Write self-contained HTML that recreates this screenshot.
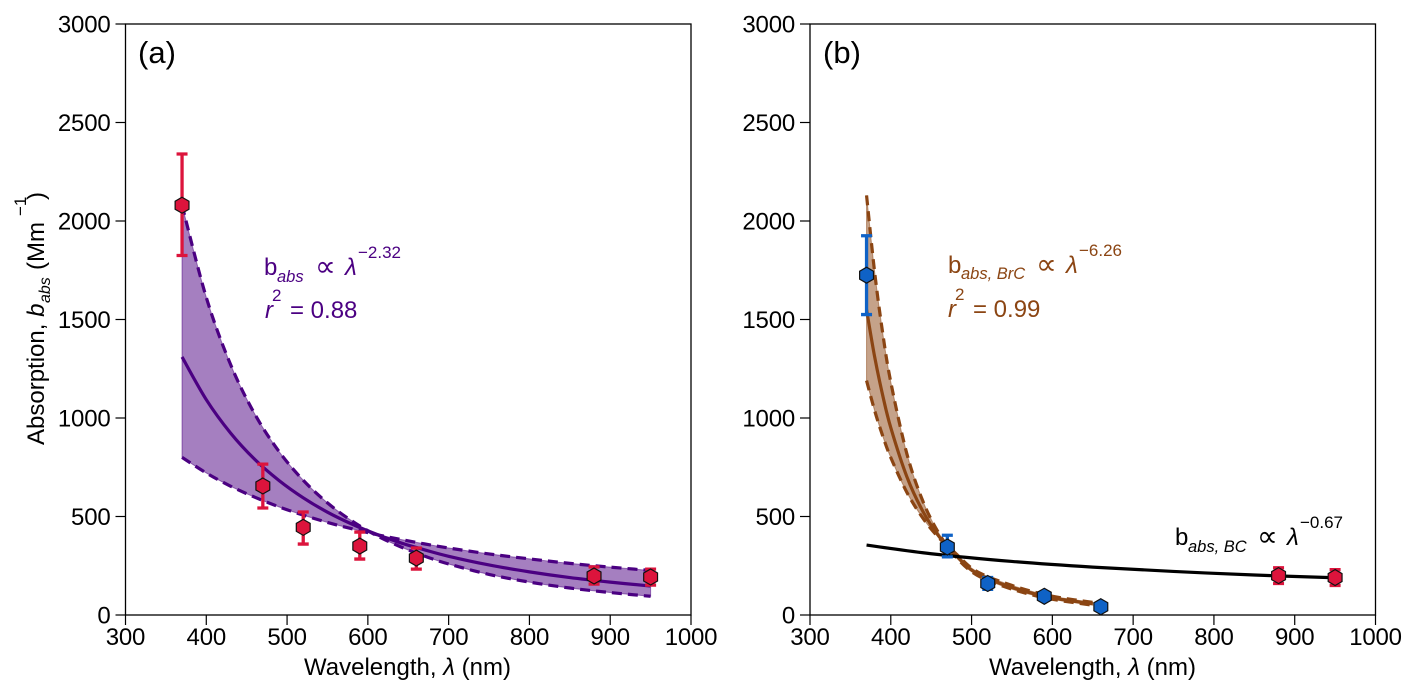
<!DOCTYPE html>
<html lang="en">
<head>
<meta charset="utf-8">
<title>Absorption vs wavelength</title>
<style>
html,body{margin:0;padding:0;background:#fff;}
svg{display:block;font-family:"Liberation Sans",Arial,sans-serif;}
text{fill:#000;}
.tick{font-size:24px;letter-spacing:-0.2px;}
.title{font-size:24px;}
.ann{font-size:24px;}
.sub{font-size:16.5px;font-style:italic;}
.sup{font-size:17px;}
.prop{font-family:"DejaVu Sans",sans-serif;font-size:29px;}
.it{font-style:italic;}
.purple{fill:#4b0082;}
.brown{fill:#8b4513;}
</style>
</head>
<body>
<svg id="chart" xmlns="http://www.w3.org/2000/svg" width="1415" height="694" viewBox="0 0 1415 694">
  <rect x="0" y="0" width="1415" height="694" fill="#fff"/>
  <g id="panel-a"></g>
  <g id="panel-b"></g>

  <text x="138" y="63" font-size="31">(a)</text>
  <text x="823" y="63" font-size="31">(b)</text>

  <text class="title" x="407.5" y="675" text-anchor="middle">Wavelength, <tspan class="it">λ</tspan> (nm)</text>
  <text class="title" x="1092.5" y="675" text-anchor="middle">Wavelength, <tspan class="it">λ</tspan> (nm)</text>

  <g transform="translate(44,445) rotate(-90)">
    <text class="title" x="0" y="0">Absorption, <tspan class="it">b</tspan></text>
    <text class="sub" x="142" y="6" style="font-size:16px">abs</text>
    <text class="title" x="175" y="0">(Mm</text>
    <text class="sup" x="229" y="-18" style="font-size:17px">−1</text>
    <text class="title" x="245" y="0">)</text>
  </g>

  <g>
    <text class="ann purple" x="264" y="275">b</text>
    <text class="sub purple" x="277" y="282">abs</text>
    <text class="prop purple" x="315" y="276">∝</text>
    <text class="ann it purple" x="345" y="275">λ</text>
    <text class="sup purple" x="358" y="258">−2.32</text>
    <text class="ann it purple" x="265" y="318">r</text>
    <text class="sup purple" x="272" y="301">2</text>
    <text class="ann purple" x="290" y="318">= 0.88</text>
  </g>

  <g>
    <text class="ann brown" x="948" y="273">b</text>
    <text class="sub brown" x="961" y="279">abs, BrC</text>
    <text class="prop brown" x="1036" y="274">∝</text>
    <text class="ann it brown" x="1066" y="273">λ</text>
    <text class="sup brown" x="1079" y="256">−6.26</text>
    <text class="ann it brown" x="948" y="317">r</text>
    <text class="sup brown" x="955" y="300">2</text>
    <text class="ann brown" x="973" y="317">= 0.99</text>
  </g>

  <g>
    <text class="ann" x="1175" y="545">b</text>
    <text class="sub" x="1188" y="552">abs, BC</text>
    <text class="prop" x="1257" y="546">∝</text>
    <text class="ann it" x="1287" y="545">λ</text>
    <text class="sup" x="1300" y="528">−0.67</text>
  </g>
</svg>
<script>
const xTickValues = [300, 400, 500, 600, 700, 800, 900, 1000];
const yTickValues = [0, 500, 1000, 1500, 2000, 2500, 3000];

const aFitWavelengths = [370, 400, 430, 460, 490, 520, 550, 580, 610, 640, 670, 700, 750, 800, 850, 900, 950];
const aSteepBound = [2080, 1612, 1272, 1020, 830, 684, 569, 478, 405, 347, 299, 259, 206, 167, 137, 114, 95];
const aShallowBound = [800, 721, 654, 598, 549, 507, 470, 438, 409, 384, 361, 340, 310, 285, 262, 243, 226];
const aFitCentral = [1310, 1093, 924, 790, 683, 595, 522, 462, 411, 367, 331, 298, 254, 219, 190, 167, 147];

const aPointWavelengths = [370, 470, 520, 590, 660, 880, 950];
const aPointValues = [2080, 655, 445, 350, 289, 198, 193];
const aPointLow = [1825, 543, 360, 284, 233, 157, 152];
const aPointHigh = [2340, 766, 523, 421, 340, 244, 233];

const bBrcWavelengths = [370, 380, 390, 400, 420, 440, 460, 480, 500, 520, 550, 580, 610, 650];
const bBrcSteepBound = [2130, 1741, 1431, 1182, 817, 575, 411, 298, 220, 176, 131, 97, 73, 50];
const bBrcShallowBound = [1190, 1038, 909, 799, 622, 490, 390, 314, 238, 195, 150, 114, 88, 64];
const bBrcCentral = [1550, 1311, 1115, 951, 701, 524, 397, 305, 228, 185, 140, 105, 80, 57];

const bBcWavelengths = [370, 450, 550, 650, 750, 850, 950];
const bBcFit = [355, 311, 272, 243, 221, 203, 189];

const bBluePointWavelengths = [370, 470, 520, 590, 660];
const bBluePointValues = [1725, 345, 160, 95, 42];
const bBluePointLow = [1525, 295, 130, 75, 30];
const bBluePointHigh = [1925, 405, 190, 115, 55];

const bRedPointWavelengths = [880, 950];
const bRedPointValues = [200, 190];
const bRedPointLow = [160, 150];
const bRedPointHigh = [240, 230];

const NS = 'http://www.w3.org/2000/svg';
const PLOT_TOP = 24, PLOT_BOTTOM = 615, PANEL_WIDTH = 565.5;
const COLOR_PURPLE = '#4b0082', COLOR_BROWN = '#8b4513', COLOR_RED = '#dc143c', COLOR_BLUE = '#0f62c6';

function yScale(v) {
  return PLOT_BOTTOM - (v - 0) / 3000 * (PLOT_BOTTOM - PLOT_TOP);
}
function makeXScale(left) {
  return function (v) { return left + (v - 300) / 700 * PANEL_WIDTH; };
}
function svgEl(tag, parent) {
  const el = document.createElementNS(NS, tag);
  parent.appendChild(el);
  return el;
}
function splineSegments(pts) {
  let d = '';
  for (let i = 0; i < pts.length - 1; i++) {
    const p0 = pts[Math.max(i - 1, 0)], p1 = pts[i], p2 = pts[i + 1], p3 = pts[Math.min(i + 2, pts.length - 1)];
    const c1x = p1[0] + (p2[0] - p0[0]) / 6, c1y = p1[1] + (p2[1] - p0[1]) / 6;
    const c2x = p2[0] - (p3[0] - p1[0]) / 6, c2y = p2[1] - (p3[1] - p1[1]) / 6;
    d += 'C' + c1x.toFixed(2) + ' ' + c1y.toFixed(2) + ' ' + c2x.toFixed(2) + ' ' + c2y.toFixed(2) + ' ' + p2[0].toFixed(2) + ' ' + p2[1].toFixed(2);
  }
  return d;
}
function toPoints(xs, ys, xScale) {
  return xs.map(function (x, i) { return [xScale(x), yScale(ys[i])]; });
}
function curvePath(xs, ys, xScale) {
  const pts = toPoints(xs, ys, xScale);
  return 'M' + pts[0][0].toFixed(2) + ' ' + pts[0][1].toFixed(2) + splineSegments(pts);
}
function bandPath(xs, top, bottom, xScale) {
  const a = toPoints(xs, top, xScale);
  const b = toPoints(xs, bottom, xScale).reverse();
  return 'M' + a[0][0].toFixed(2) + ' ' + a[0][1].toFixed(2) + splineSegments(a) +
    'L' + b[0][0].toFixed(2) + ' ' + b[0][1].toFixed(2) + splineSegments(b) + 'Z';
}
function drawFrame(group, left, xScale) {
  const frame = svgEl('rect', group);
  
  
  frame.setAttribute('x', left);
  frame.setAttribute('y', PLOT_TOP);
  frame.setAttribute('width', PANEL_WIDTH);
  frame.setAttribute('height', PLOT_BOTTOM - PLOT_TOP);
  frame.setAttribute('fill', 'none');
  frame.setAttribute('stroke', '#000');
  frame.setAttribute('stroke-width', '1.3');
  xTickValues.forEach(function (v) {
    const t = svgEl('line', group);
    
    
    t.setAttribute('x1', xScale(v));
    t.setAttribute('x2', xScale(v));
    t.setAttribute('y1', PLOT_BOTTOM);
    t.setAttribute('y2', PLOT_BOTTOM + 10);
    t.setAttribute('stroke', '#000');
    t.setAttribute('stroke-width', '1.2');
    const l = svgEl('text', group);
    
    
    l.setAttribute('class', 'tick');
    l.setAttribute('x', xScale(v));
    l.setAttribute('y', 645);
    l.setAttribute('text-anchor', 'middle');
    l.textContent = v;
  });
  yTickValues.forEach(function (v) {
    const t = svgEl('line', group);
    
    
    t.setAttribute('x1', left - 10);
    t.setAttribute('x2', left);
    t.setAttribute('y1', yScale(v));
    t.setAttribute('y2', yScale(v));
    t.setAttribute('stroke', '#000');
    t.setAttribute('stroke-width', '1.2');
    const l = svgEl('text', group);
    
    
    l.setAttribute('class', 'tick');
    l.setAttribute('x', left - 15);
    l.setAttribute('y', yScale(v) + 8.5);
    l.setAttribute('text-anchor', 'end');
    l.textContent = v;
  });
}
function drawBand(group, xs, top, bottom, central, color, xScale) {
  const band = svgEl('path', group);
  
  
  band.setAttribute('d', bandPath(xs, top, bottom, xScale));
  band.setAttribute('fill', color);
  band.setAttribute('fill-opacity', '0.5');
  band.setAttribute('stroke', color);
  band.setAttribute('stroke-opacity', '0.5');
  band.setAttribute('stroke-width', '1');
  [top, bottom].forEach(function (series) {
    const dash = svgEl('path', group);
    
    
    dash.setAttribute('d', curvePath(xs, series, xScale));
    dash.setAttribute('fill', 'none');
    dash.setAttribute('stroke', color);
    dash.setAttribute('stroke-width', '3.2');
    dash.setAttribute('stroke-dasharray', '10 6');
  });
  const mid = svgEl('path', group);
  
  
  mid.setAttribute('d', curvePath(xs, central, xScale));
  mid.setAttribute('fill', 'none');
  mid.setAttribute('stroke', color);
  mid.setAttribute('stroke-width', '3.2');
}
function drawPoints(group, xs, vals, lows, highs, color, xScale) {
  xs.forEach(function (w, i) {
    const x = xScale(w);
    const yLo = yScale(lows[i]), yHi = yScale(highs[i]);
    const bar = svgEl('path', group);
    
    
    bar.setAttribute('d', 'M' + x + ' ' + yLo + 'L' + x + ' ' + yHi + 'M' + (x - 5.5) + ' ' + yLo + 'L' + (x + 5.5) + ' ' + yLo + 'M' + (x - 5.5) + ' ' + yHi + 'L' + (x + 5.5) + ' ' + yHi);
    bar.setAttribute('fill', 'none');
    bar.setAttribute('stroke', color);
    bar.setAttribute('stroke-width', '3.3');
  });
  xs.forEach(function (w, i) {
    const x = xScale(w), y = yScale(vals[i]);
    const r = 8, pts = [];
    for (let k = 0; k < 6; k++) {
      const ang = Math.PI / 3 * k - Math.PI / 2;
      pts.push((x + r * Math.cos(ang)).toFixed(2) + ',' + (y + r * Math.sin(ang)).toFixed(2));
    }
    const hex = svgEl('polygon', group);
    
    
    hex.setAttribute('points', pts.join(' '));
    hex.setAttribute('fill', color);
    hex.setAttribute('stroke', '#111');
    hex.setAttribute('stroke-width', '1.2');
  });
}

const groupA = document.getElementById('panel-a');
const groupB = document.getElementById('panel-b');
const xA = makeXScale(125.5);
const xB = makeXScale(810);

drawBand(groupA, aFitWavelengths, aSteepBound, aShallowBound, aFitCentral, COLOR_PURPLE, xA);
drawFrame(groupA, 125.5, xA);
drawPoints(groupA, aPointWavelengths, aPointValues, aPointLow, aPointHigh, COLOR_RED, xA);

drawBand(groupB, bBrcWavelengths, bBrcSteepBound, bBrcShallowBound, bBrcCentral, COLOR_BROWN, xB);
const bcLine = svgEl('path', groupB);


bcLine.setAttribute('d', curvePath(bBcWavelengths, bBcFit, xB));
bcLine.setAttribute('fill', 'none');
bcLine.setAttribute('stroke', '#000');
bcLine.setAttribute('stroke-width', '3.2');
drawFrame(groupB, 810, xB);
drawPoints(groupB, bBluePointWavelengths, bBluePointValues, bBluePointLow, bBluePointHigh, COLOR_BLUE, xB);
drawPoints(groupB, bRedPointWavelengths, bRedPointValues, bRedPointLow, bRedPointHigh, COLOR_RED, xB);
</script>
</body>
</html>
